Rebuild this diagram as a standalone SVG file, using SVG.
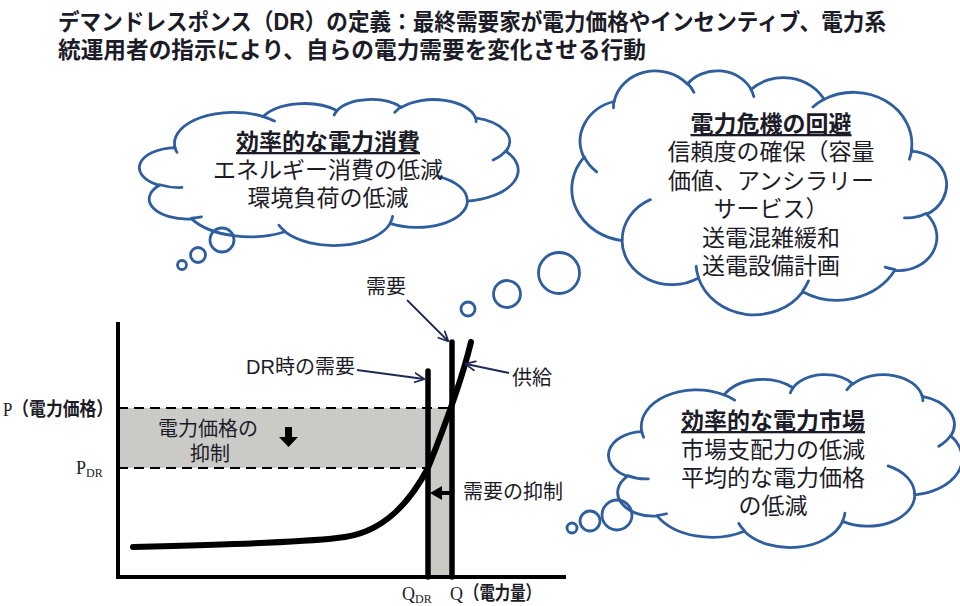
<svg xmlns="http://www.w3.org/2000/svg" width="960" height="606" viewBox="0 0 960 606">
<style>
.t{font-family:"Liberation Sans","Noto Sans CJK JP",sans-serif;fill:#1c1c28}
.title{font-size:23px;font-weight:700}
.ch{font-size:23px;font-weight:700;text-decoration:underline}
.cb{font-size:23px;font-weight:400}
.mid{text-anchor:middle}
.cl{fill:#fff;stroke:#2e5e9e;stroke-width:2.8;vector-effect:non-scaling-stroke}
.cli{fill:none;stroke:#2e5e9e;stroke-width:2.8;vector-effect:non-scaling-stroke;stroke-linecap:round}
.bub{fill:none;stroke:#2e5e9e;stroke-width:2.8}
.lbl{font-size:20px}
.serif{font-family:"Liberation Serif",serif}
.blk{stroke:#000;fill:none}
.dash{stroke:#000;stroke-width:2;stroke-dasharray:10 6;fill:none}
.ptr{stroke:#1f2a55;stroke-width:1.8;fill:none;marker-end:url(#open)}
</style>
<defs>
<marker id="open" viewBox="0 0 10 10" refX="9" refY="5" markerWidth="11" markerHeight="11" orient="auto" markerUnits="userSpaceOnUse">
<path d="M0,0.5 L9.5,5 L0,9.5" fill="none" stroke="#1f2a55" stroke-width="1.6"/>
</marker>
<g id="cloud">
<path class="cl" d="M9.03,33.26 A15.63,21.27 0 0 1 32.42,12.04 A12.35,16.82 0 0 1 51.98,7.95 A10.10,13.76 0 0 1 69.06,5.75 A11.24,15.27 0 0 1 88.70,12.91 A12.35,16.84 0 0 1 96.81,35.79 A15.68,21.34 0 0 1 86.59,69.91 A13.39,18.21 0 0 1 66.10,85.21 A15.63,21.33 0 0 1 38.16,90.90 A17.87,24.41 0 0 1 13.44,82.11 A10.09,13.70 0 0 1 4.90,59.14 A10.06,13.76 0 0 1 9.03,33.26 Z"/>
<path class="cli" d="M10.86,60.60 A10.06,13.76 0 0 1 5.00,58.75 M16.04,80.79 A10.09,13.70 0 0 1 13.47,81.67 M38.14,90.49 A15.63,21.33 0 0 1 36.59,86.45 M66.73,80.44 A15.63,21.33 0 0 1 66.11,84.86 M79.00,53.13 A13.39,18.21 0 0 1 86.53,69.65 M96.76,35.54 A12.35,16.84 0 0 1 93.40,41.74 M88.71,12.56 A11.24,15.27 0 0 1 88.89,15.49 M67.31,9.15 A11.24,15.27 0 0 1 69.03,5.42 M51.25,10.93 A10.10,13.76 0 0 1 52.08,7.71 M32.41,12.02 A15.63,21.27 0 0 1 35.41,15.14 M9.55,36.55 A15.63,21.27 0 0 1 8.86,32.27"/>
</g>
</defs>

<g id="title">
<text class="t title" x="58" y="30" textLength="828" lengthAdjust="spacingAndGlyphs">デマンドレスポンス（DR）の定義：最終需要家が電力価格やインセンティブ、電力系</text>
<text class="t title" x="58" y="58" textLength="588" lengthAdjust="spacingAndGlyphs">統運用者の指示により、自らの電力需要を変化させる行動</text>
</g>

<g id="cloud-consumption">
<use href="#cloud" transform="translate(141,99) scale(3.77,1.46)"/>
<circle class="bub" cx="182" cy="265" r="4.5"/>
<circle class="bub" cx="198" cy="255" r="7.5"/>
<circle class="bub" cx="222" cy="240" r="12"/>
<text class="t ch mid" x="328" y="150">効率的な電力消費</text>
<text class="t cb mid" x="328" y="178">エネルギー消費の低減</text>
<text class="t cb mid" x="328" y="206">環境負荷の低減</text>
</g>

<g id="cloud-crisis">
<use href="#cloud" transform="translate(945,70) scale(-3.73,2.44)"/>
<circle class="bub" cx="468" cy="309" r="7"/>
<circle class="bub" cx="507" cy="294" r="13.5"/>
<circle class="bub" cx="559" cy="273" r="20.5"/>
<text class="t ch mid" x="771" y="132">電力危機の回避</text>
<text class="t cb mid" x="771" y="160">信頼度の確保（容量</text>
<text class="t cb mid" x="771" y="189">価値、アンシラリー</text>
<text class="t cb mid" x="771" y="217">サービス）</text>
<text class="t cb mid" x="771" y="246">送電混雑緩和</text>
<text class="t cb mid" x="771" y="274">送電設備計画</text>
</g>

<g id="cloud-market">
<use href="#cloud" transform="translate(610,374) scale(3.52,1.73)"/>
<circle class="bub" cx="572" cy="528" r="5"/>
<circle class="bub" cx="590" cy="521" r="10"/>
<circle class="bub" cx="617" cy="515" r="15"/>
<text class="t ch mid" x="773" y="429">効率的な電力市場</text>
<text class="t cb mid" x="773" y="458">市場支配力の低減</text>
<text class="t cb mid" x="773" y="486">平均的な電力価格</text>
<text class="t cb mid" x="773" y="514">の低減</text>
</g>

<g id="chart">
<path d="M118,408 H452 V577 H428 V468 H118 Z" fill="#cacac6"/>
<path class="dash" d="M118,408 H452 M118,468 H428"/>
<path class="blk" stroke-width="4" d="M118,322 V577 H566"/>
<path class="blk" stroke-width="5.5" stroke-linecap="round" d="M428,371 V577 M452,342 V577"/>
<path class="blk" stroke-width="6" stroke-linecap="round" d="M133,547 C240,544 310,542 345,537 C385,531 410,502 428,468 C440,438 462,380 471,342"/>
<polygon points="285,427 292,427 292,437 298,437 288.5,447 279,437 285,437" fill="#000"/>
<path class="blk" stroke-width="4" d="M452,493 H440"/>
<polygon points="430,493 442,486 442,500" fill="#000"/>
<text class="t lbl" x="158" y="436" font-size="21" fill="#333">電力価格の</text>
<text class="t lbl" x="190" y="461" font-size="21" fill="#333">抑制</text>
<text class="t" x="3" y="416" font-size="19" textLength="110" lengthAdjust="spacingAndGlyphs"><tspan class="serif">P</tspan><tspan font-weight="700">（電力価格）</tspan></text>
<text class="serif" x="76" y="474" font-size="18" fill="#1c1c28">P<tspan font-size="12" dy="3">DR</tspan></text>
<text class="serif" x="402" y="600" font-size="18" fill="#1c1c28">Q<tspan font-size="12" dy="3">DR</tspan></text>
<text class="serif" x="450" y="600" font-size="18" fill="#1c1c28">Q</text>
<text class="t" x="464" y="600" font-size="19" font-weight="700" textLength="77" lengthAdjust="spacingAndGlyphs">（電力量）</text>
</g>

<g id="connectors">
<path class="ptr" d="M407,300 L448,341"/>
<path class="ptr" d="M357,370 L424,379"/>
<path class="ptr" d="M509,373 L466,364"/>
</g>

<g id="labels">
<text class="t lbl" x="366" y="294">需要</text>
<text class="t lbl" x="246" y="374">DR時の需要</text>
<text class="t lbl" x="512" y="385">供給</text>
<text class="t lbl" x="463" y="499">需要の抑制</text>
</g>
</svg>
